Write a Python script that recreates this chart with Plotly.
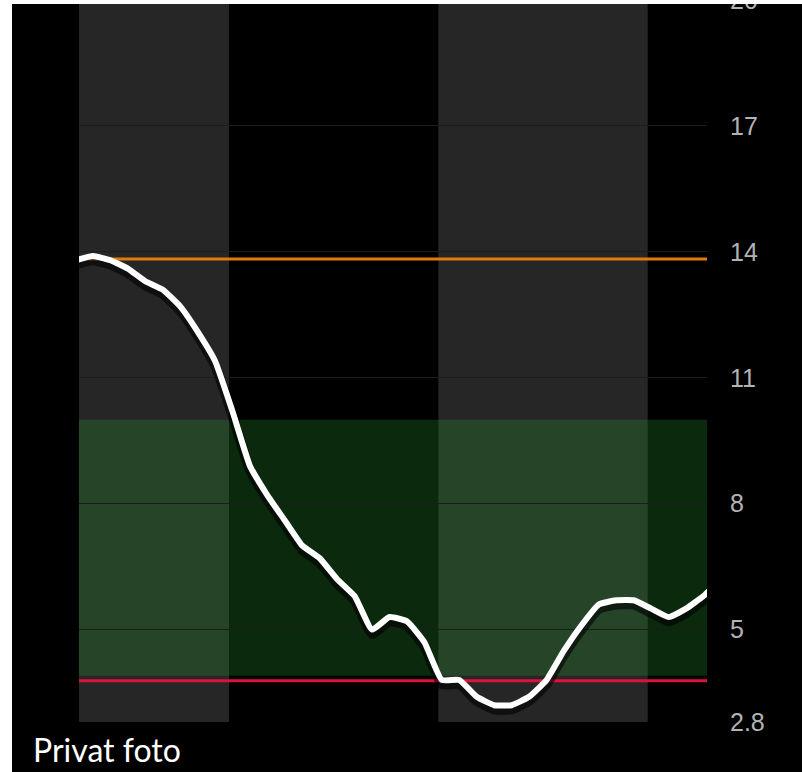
import plotly.graph_objects as go

# ---- data ----
# CGM readings every 5 minutes (minutes from left edge of the view)
times = [-1 + 5 * k for k in range(38)]
glucose = [13.8, 13.9, 13.8, 13.6, 13.3, 13.1, 12.7, 12.1, 11.4, 10.2,
           8.9, 8.2, 7.6, 7.0, 6.7, 6.2, 5.8, 5.0, 5.3, 5.2,
           4.7, 3.8, 3.8, 3.4, 3.2, 3.2, 3.4, 3.8, 4.5, 5.1,
           5.6, 5.7, 5.7, 5.5, 5.3, 5.5, 5.8, 6.2]
x_range = [0, 180]
hour_bands = [(0, 43), (103, 163)]          # alternating shaded hour blocks
target_low, target_high = 3.9, 10.0        # green target range
high_limit = 13.83                          # orange line
low_limit = 3.78                            # red line
y_ticks = [2.8, 5, 8, 11, 14, 17, 20]
y_tick_text = ["2.8", "5", "8", "11", "14", "17", "20"]
caption = "Privat foto"

# ---- layout constants ----
W, H = 802, 772
ML, MR, MT, MB = 79, 95, 0, 50
PW, PH = W - ML - MR, H - MT - MB


def px_to_paper_x(px):
    return (px - ML) / PW


def py_to_paper_y(py):
    return (H - MB - py) / PH


fig = go.Figure()

# drop shadow under the curve
fig.add_trace(go.Scatter(
    x=times, y=[g - 0.1 for g in glucose], mode="lines",
    line=dict(color="rgba(0,0,0,0.6)", width=10, shape="spline", smoothing=0.4),
    hoverinfo="skip", showlegend=False))
# glucose curve
fig.add_trace(go.Scatter(
    x=times, y=glucose, mode="lines",
    line=dict(color="white", width=6, shape="spline", smoothing=0.4),
    showlegend=False))

shapes = []
for a, b in hour_bands:
    shapes.append(dict(type="rect", xref="x", yref="paper", x0=a, x1=b, y0=0, y1=1,
                       fillcolor="#262626", line=dict(width=0), layer="below"))
shapes.append(dict(type="rect", xref="paper", yref="y", x0=0, x1=1,
                   y0=target_low, y1=target_high,
                   fillcolor="rgba(42,150,48,0.27)", line=dict(width=0), layer="between"))
shapes.append(dict(type="line", xref="paper", yref="y", x0=0, x1=1,
                   y0=high_limit, y1=high_limit,
                   line=dict(color="#e07a0c", width=3), layer="between"))
shapes.append(dict(type="line", xref="paper", yref="y", x0=0, x1=1,
                   y0=low_limit, y1=low_limit,
                   line=dict(color="#e0103c", width=3), layer="between"))
# white strips at the left and top edges of the photo
shapes.append(dict(type="rect", xref="paper", yref="paper",
                   x0=px_to_paper_x(-2), x1=px_to_paper_x(12),
                   y0=py_to_paper_y(H + 2), y1=py_to_paper_y(-2),
                   fillcolor="white", line=dict(width=0), layer="above"))
shapes.append(dict(type="rect", xref="paper", yref="paper",
                   x0=px_to_paper_x(-2), x1=px_to_paper_x(W + 2),
                   y0=py_to_paper_y(4), y1=py_to_paper_y(-2),
                   fillcolor="white", line=dict(width=0), layer="above"))

fig.update_layout(
    width=W, height=H,
    margin=dict(l=ML, r=MR, t=MT, b=MB, pad=0, autoexpand=False),
    paper_bgcolor="black", plot_bgcolor="black",
    shapes=shapes,
    showlegend=False,
    xaxis=dict(range=x_range, showgrid=False, zeroline=False, showticklabels=False,
               ticks="", showline=False, fixedrange=True, automargin=False),
    yaxis=dict(range=[2.8, 20], side="right", tickvals=y_ticks, ticktext=y_tick_text,
               showgrid=True, gridcolor="#1c1c1c", gridwidth=1, zeroline=False,
               ticks="", showline=False, ticklabelstandoff=22, automargin=False,
               ticklabeloverflow="allow",
               tickfont=dict(family="Liberation Sans, Arial, sans-serif", size=25,
                             color="#b3b3b3")),
    annotations=[dict(text=caption, xref="paper", yref="paper",
                      x=px_to_paper_x(31), y=py_to_paper_y(749),
                      xanchor="left", yanchor="middle", showarrow=False,
                      font=dict(family="Lato, Carlito, Calibri, sans-serif", size=32,
                                color="white"))],
)

fig.write_html("out.html",
               config={"displayModeBar": False},
               post_script="document.body.style.margin='0';"
                           "document.body.style.overflow='hidden';")
